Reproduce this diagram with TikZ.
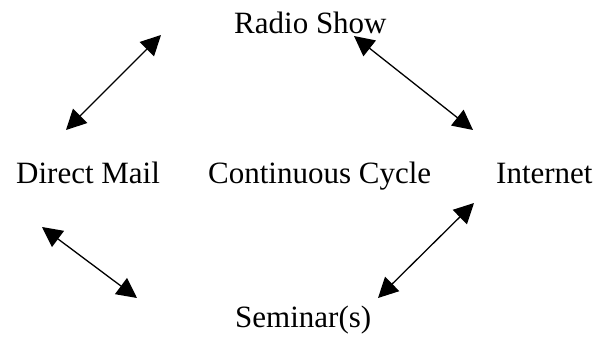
\documentclass[tikz,border=0pt]{standalone}
\usepackage{fontspec}
\setmainfont{Liberation Serif}
\usetikzlibrary{arrows.meta}
\begin{document}
\begin{tikzpicture}[x=1pt,y=1pt,
  lbl/.style={anchor=base west,inner sep=0pt,font=\fontsize{31}{36}\selectfont},
  link/.style={line width=1.3pt,{Triangle[length=20pt,width=20pt]}-{Triangle[length=20pt,width=20pt]}}]
\useasboundingbox (0,0) rectangle (600,341);
\node[lbl] (radio) at (234,308) {Radio Show};
\node[lbl] (mail) at (16,158) {Direct Mail};
\node[lbl] (cycle) at (208,158) {Continuous Cycle};
\node[lbl] (net) at (496,158) {Internet};
\node[lbl] (sem) at (235,14) {Seminar(s)};
\coordinate (a1) at (66,211);
\coordinate (a2) at (161,306);
\coordinate (b1) at (354,305);
\coordinate (b2) at (473,211);
\coordinate (c1) at (42,114);
\coordinate (c2) at (137,43);
\coordinate (d1) at (378,43);
\coordinate (d2) at (474,138);
\draw[link] (a1) -- (a2);
\draw[link] (b1) -- (b2);
\draw[link] (c1) -- (c2);
\draw[link] (d1) -- (d2);
\end{tikzpicture}
\end{document}
